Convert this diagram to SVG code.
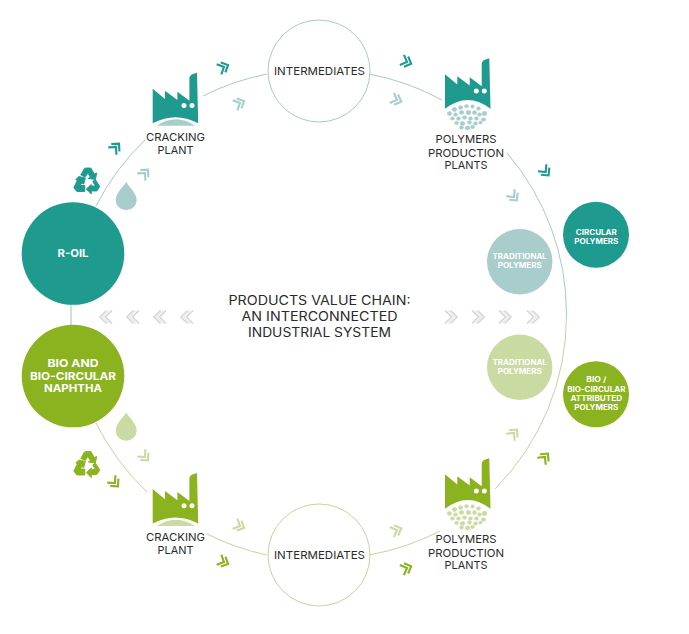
<svg xmlns="http://www.w3.org/2000/svg" width="689" height="634" viewBox="0 0 689 634">
<style>
text{font-family:"Inter","Liberation Sans",sans-serif;text-anchor:middle}
.lb{font-size:11px;font-weight:400;fill:#2b2b2b}
.w{font-weight:700;fill:#fff}
.ti{font-size:13px;font-weight:400;fill:#2b2b2b}
.big{font-size:11px}
.sm{font-size:7.400px}
.lt{stroke:#a9c9c5;stroke-width:1;fill:none}
.lg{stroke:#c6d3a0;stroke-width:1;fill:none}
.t{color:#1e9a8e}.tl{color:#a9cdca}.g{color:#8ab31f}.gl{color:#c9dba2}
</style>
<defs>
<g id="chev" fill="none" stroke="currentColor" stroke-width="2.100"><path d="M-5.500-5.500 0 0-5.500 5.500"/><path d="M-1-5.500 4.500 0-1 5.500"/></g>
<g id="cg" fill="none" stroke="#d6d6d6" stroke-width="1.600"><path d="M-7-6.500-.5 0-7 6.500"/><path d="M-1.500-6.500 5 0-1.500 6.500"/><path d="M-4.200-6.500 2.200 0-4.200 6.500" stroke="#ececec"/></g>
<path id="fac" fill="currentColor" d="M0 16 12.300 26.300V18L24.700 27.300V19L36.700 28V5Q37 1.500 44.300 0L45.500 50.500Q23 38.500 0 50.500Z"/>
<path id="fac2" fill="currentColor" d="M0 16 12.300 26.300V18L24.700 27.300V19L36.700 28V5Q37 1.500 44.300 0L45.500 50.500Q23 33 0 50.500Z"/>
<g id="eyes" fill="#fff"><circle cx="31.300" cy="32.700" r="2.500"/><circle cx="39.300" cy="32.700" r="2.500"/></g>
<path id="drop" fill="currentColor" d="M10.500 0C13 5 21 11 21 18.500A10.500 10 0 0 1 0 18.500C0 11 8 5 10.500 0Z"/>
<g id="rec" fill="currentColor" stroke="currentColor" stroke-width=".9" stroke-linejoin="round">
<path d="M7.500 7.500 11 1Q12 .5 13 .5H17.500L21 6.500 23.500 5.500 22 12 15 11 17 9.500 14.500 5.500 12 9.500Z"/>
<path d="M5.500 9 12 10.500 10.500 16.500 8.500 15.500 7 18H11.500V24H3.500L.5 20 4 13 2.500 12Z"/>
<path d="M22 12 26.500 19 23.500 23.500H18V26.500L13 21.500 18 17V18.500H22L19.500 14Z"/>
</g>
<g id="dots" fill="currentColor" stroke="currentColor" stroke-width=".5">
<ellipse cx="4.500" cy="9" rx="2.200" ry="2"/><ellipse cx="9.500" cy="5" rx="2.300" ry="2"/><ellipse cx="15.500" cy="3" rx="2" ry="1.900"/><ellipse cx="21.500" cy="1.800" rx="2" ry="1.800"/><ellipse cx="27.500" cy="2" rx="1.800" ry="1.800"/><ellipse cx="33.500" cy="4" rx="2" ry="1.800"/><ellipse cx="39.500" cy="9" rx="2.400" ry="2.200"/>
<ellipse cx="10.500" cy="10" rx="2" ry="1.800"/><ellipse cx="16.500" cy="8" rx="2.300" ry="2"/><ellipse cx="23.500" cy="8" rx="2.400" ry="2.200"/><ellipse cx="29.500" cy="8" rx="2" ry="2"/><ellipse cx="34.500" cy="10" rx="2" ry="1.800"/>
<ellipse cx="7.500" cy="14" rx="2" ry="1.700"/><ellipse cx="13.500" cy="14" rx="2" ry="1.800"/><ellipse cx="19.500" cy="13" rx="2.200" ry="1.800"/><ellipse cx="25.500" cy="14" rx="2" ry="1.800"/><ellipse cx="31.500" cy="14" rx="2" ry="1.800"/><ellipse cx="38.500" cy="15" rx="2.200" ry="1.800"/>
<ellipse cx="11.500" cy="18.500" rx="2" ry="1.700"/><ellipse cx="17.500" cy="19" rx="2.400" ry="2"/><ellipse cx="24.500" cy="18" rx="2" ry="1.800"/><ellipse cx="30.500" cy="19" rx="2" ry="1.800"/><ellipse cx="35.500" cy="18" rx="1.800" ry="1.500"/>
<ellipse cx="16.500" cy="23" rx="2" ry="1.800"/><ellipse cx="22.500" cy="23.500" rx="2.400" ry="2"/><ellipse cx="27.500" cy="22.500" rx="2" ry="1.800"/>
</g>
</defs>
<g id="connectors">
<path class="lt" d="M96 206A247 247 0 0 1 145 140"/>
<path class="lt" d="M203 96A247 247 0 0 1 267 74"/>
<path class="lt" d="M369 74A247 247 0 0 1 442 100"/>
<path class="lt" d="M507 153A247 247 0 0 1 566.500 315"/>
<path class="lg" d="M566.500 315A247 247 0 0 1 495 489"/>
<path class="lg" d="M96 423A247 247 0 0 0 147 492"/>
<path class="lg" d="M207 534A247 247 0 0 0 267 555"/>
<path class="lg" d="M369 555A247 247 0 0 0 440 531"/>
<path d="M71 304V325" stroke="#c5d5c8" stroke-width="1.500" fill="none"/>
</g>
<g id="chevrons">
<use href="#chev" class="t" transform="translate(224 67) rotate(-25)"/>
<use href="#chev" class="tl" transform="translate(240 103) rotate(-25)"/>
<use href="#chev" class="t" transform="translate(116 147) rotate(-48)"/>
<use href="#chev" class="tl" transform="translate(145 173) rotate(-48)"/>
<use href="#chev" class="t" transform="translate(407 62) rotate(22)"/>
<use href="#chev" class="tl" transform="translate(397 100) rotate(22)"/>
<use href="#chev" class="t" transform="translate(545.700 172) rotate(50)"/>
<use href="#chev" class="tl" transform="translate(514 197) rotate(50)"/>
<use href="#chev" class="g" transform="translate(545 457) rotate(-50)"/>
<use href="#chev" class="gl" transform="translate(514 433) rotate(-50)"/>
<use href="#chev" class="g" transform="translate(407 568) rotate(-22)"/>
<use href="#chev" class="gl" transform="translate(397 530) rotate(-22)"/>
<use href="#chev" class="g" transform="translate(115 483) rotate(48)"/>
<use href="#chev" class="gl" transform="translate(145 457) rotate(48)"/>
<use href="#chev" class="g" transform="translate(224 562) rotate(25)"/>
<use href="#chev" class="gl" transform="translate(240 526) rotate(25)"/>
<use href="#cg" transform="translate(105 317) rotate(180)"/>
<use href="#cg" transform="translate(132 317) rotate(180)"/>
<use href="#cg" transform="translate(159 317) rotate(180)"/>
<use href="#cg" transform="translate(186 317) rotate(180)"/>
<use href="#cg" transform="translate(452 317)"/>
<use href="#cg" transform="translate(479 317)"/>
<use href="#cg" transform="translate(506 317)"/>
<use href="#cg" transform="translate(534 317)"/>
</g>
<g id="r-oil"><circle cx="73" cy="253.500" r="51.300" fill="#1e9a8e"/><text class="w big" x="73" y="257.300" textLength="31" lengthAdjust="spacingAndGlyphs">R-OIL</text></g>
<g id="bio-naphtha"><circle cx="73" cy="376" r="51.300" fill="#8ab31f"/><text class="w big" x="73" y="366.700" textLength="51" lengthAdjust="spacingAndGlyphs">BIO AND</text><text class="w big" x="73" y="379.700" textLength="86" lengthAdjust="spacingAndGlyphs">BIO-CIRCULAR</text><text class="w big" x="73" y="392.300" textLength="58" lengthAdjust="spacingAndGlyphs">NAPHTHA</text></g>
<g id="intermediates-top"><circle cx="319" cy="71" r="51" fill="#fff" stroke="#a9c9c5"/><text class="lb" x="319.500" y="75" textLength="91" lengthAdjust="spacingAndGlyphs">INTERMEDIATES</text></g>
<g id="intermediates-bottom"><circle cx="319" cy="555" r="51" fill="#fff" stroke="#c6d3a0"/><text class="lb" x="319.500" y="559" textLength="91" lengthAdjust="spacingAndGlyphs">INTERMEDIATES</text></g>
<g id="cracking-top" class="t"><use href="#fac" x="152.700" y="72.700"/><use href="#eyes" x="152.700" y="72.700"/><path d="M157 125.700Q176 113 195 125.700Z" fill="#a9cdca"/><text class="lb" x="175.500" y="141" textLength="59" lengthAdjust="spacingAndGlyphs">CRACKING</text><text class="lb" x="175.500" y="154" textLength="36" lengthAdjust="spacingAndGlyphs">PLANT</text></g>
<g id="polymers-top" class="t"><use href="#fac2" x="445" y="58.300"/><use href="#eyes" x="445" y="58.300"/><use href="#dots" class="tl" x="445" y="104.500"/><text class="lb" x="466" y="143.300" textLength="61" lengthAdjust="spacingAndGlyphs">POLYMERS</text><text class="lb" x="466" y="156.500" textLength="76" lengthAdjust="spacingAndGlyphs">PRODUCTION</text><text class="lb" x="466" y="169.300" textLength="43" lengthAdjust="spacingAndGlyphs">PLANTS</text></g>
<g id="cracking-bottom" class="g"><use href="#fac" x="152.700" y="473"/><use href="#eyes" x="152.700" y="473"/><path d="M157 526Q176 513.300 195 526Z" fill="#c9dba2"/><text class="lb" x="175.500" y="541" textLength="59" lengthAdjust="spacingAndGlyphs">CRACKING</text><text class="lb" x="175.500" y="554" textLength="36" lengthAdjust="spacingAndGlyphs">PLANT</text></g>
<g id="polymers-bottom" class="g"><use href="#fac2" x="445" y="458.300"/><use href="#eyes" x="445" y="458.300"/><use href="#dots" class="gl" x="445" y="504.500"/><text class="lb" x="466" y="543.300" textLength="61" lengthAdjust="spacingAndGlyphs">POLYMERS</text><text class="lb" x="466" y="556.500" textLength="76" lengthAdjust="spacingAndGlyphs">PRODUCTION</text><text class="lb" x="466" y="569.300" textLength="43" lengthAdjust="spacingAndGlyphs">PLANTS</text></g>
<g id="circular-polymers"><circle cx="596" cy="234.700" r="33" fill="#1e9a8e"/><text class="w sm" x="596.300" y="235" textLength="41" lengthAdjust="spacingAndGlyphs">CIRCULAR</text><text class="w sm" x="596.300" y="244" textLength="44" lengthAdjust="spacingAndGlyphs">POLYMERS</text></g>
<g id="traditional-top"><circle cx="519.700" cy="261.700" r="32.700" fill="#a9cdca"/><text class="w sm" x="519.700" y="259.300" textLength="54.300" lengthAdjust="spacingAndGlyphs">TRADITIONAL</text><text class="w sm" x="519.700" y="268.300" textLength="44" lengthAdjust="spacingAndGlyphs">POLYMERS</text></g>
<g id="traditional-bottom"><circle cx="519.700" cy="367.300" r="32.700" fill="#c9dba2"/><text class="w sm" x="519.700" y="365" textLength="54.300" lengthAdjust="spacingAndGlyphs">TRADITIONAL</text><text class="w sm" x="519.700" y="374.300" textLength="44" lengthAdjust="spacingAndGlyphs">POLYMERS</text></g>
<g id="bio-polymers"><circle cx="596" cy="394.300" r="33" fill="#8ab31f"/><text class="w sm" x="596.300" y="382.300" textLength="20" lengthAdjust="spacingAndGlyphs">BIO /</text><text class="w sm" x="596.300" y="391.700" textLength="58.300" lengthAdjust="spacingAndGlyphs">BIO-CIRCULAR</text><text class="w sm" x="596.300" y="400.700" textLength="51.700" lengthAdjust="spacingAndGlyphs">ATTRIBUTED</text><text class="w sm" x="596.300" y="409.700" textLength="44" lengthAdjust="spacingAndGlyphs">POLYMERS</text></g>
<g id="title"><text class="ti" x="319.500" y="305" textLength="182" lengthAdjust="spacingAndGlyphs">PRODUCTS VALUE CHAIN:</text><text class="ti" x="319.500" y="321" textLength="156" lengthAdjust="spacingAndGlyphs">AN INTERCONNECTED</text><text class="ti" x="319.500" y="337" textLength="143" lengthAdjust="spacingAndGlyphs">INDUSTRIAL SYSTEM</text></g>
<g id="icons">
<use href="#rec" class="t" x="73.300" y="167.500"/>
<use href="#rec" class="g" x="73.300" y="451"/>
<use href="#drop" class="tl" x="115.700" y="181.700"/>
<use href="#drop" class="gl" x="115.700" y="412.300"/>
</g>
</svg>
